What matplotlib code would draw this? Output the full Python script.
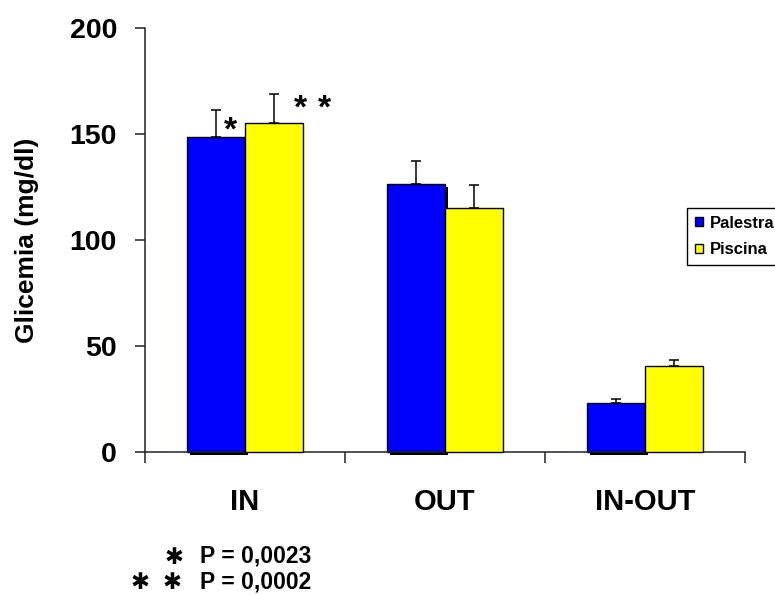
import matplotlib
matplotlib.use("Agg")
import matplotlib.pyplot as plt
import matplotlib.patheffects as pe
from matplotlib.patches import Patch
from matplotlib.font_manager import FontProperties
from matplotlib.textpath import TextPath
import numpy as np

# Data
categories = ["IN", "OUT", "IN-OUT"]
series_names = ["Palestra", "Piscina"]
palestra = [148.5, 126.5, 23.0]
palestra_err = [13.0, 11.0, 2.0]
piscina = [155.0, 115.0, 40.5]
piscina_err = [14.0, 11.0, 3.0]
y_ticks = [0, 50, 100, 150, 200]
footnotes = ["P = 0,0023", "P = 0,0002"]

W, H, DPI = 775, 595, 100
FONT = "Liberation Sans"
BLUE, YELLOW = "#0000ff", "#ffff00"

plt.rcParams["font.family"] = [FONT, "DejaVu Sans"]
plt.rcParams["font.weight"] = "bold"

fig = plt.figure(figsize=(W / DPI, H / DPI), dpi=DPI)
ax = fig.add_axes([145 / W, 1 - 452 / H, 600 / W, 424 / H])

x = np.arange(len(categories))
bw = 0.29

blue = ax.bar(x - bw / 2, palestra, bw, color=BLUE, edgecolor="black",
              linewidth=1.0, clip_on=False, zorder=2)
for b in blue:
    b.set_path_effects([pe.SimplePatchShadow(offset=(2.5, -2.5), shadow_rgbFace="black", alpha=1.0),
                        pe.Normal()])
yellow = ax.bar(x + bw / 2, piscina, bw, color=YELLOW, edgecolor="black",
                linewidth=1.0, clip_on=False, zorder=3)

ax.errorbar(x - bw / 2, palestra, yerr=[np.zeros(len(x)), palestra_err], fmt="none",
            ecolor="black", elinewidth=1.1, capsize=3.6, capthick=1.1, zorder=1)
ax.errorbar(x + bw / 2, piscina, yerr=[np.zeros(len(x)), piscina_err], fmt="none",
            ecolor="black", elinewidth=1.1, capsize=3.6, capthick=1.1, zorder=1)

ax.set_xlim(-0.5, len(categories) - 0.5)
ax.set_ylim(0, 200)

for side in ("top", "right"):
    ax.spines[side].set_visible(False)
for side in ("left", "bottom"):
    ax.spines[side].set_linewidth(1.1)
    ax.spines[side].set_color("#222222")

ax.set_yticks(y_ticks)
ax.set_yticklabels([str(v) for v in y_ticks], fontsize=20.5, fontweight="bold")
ax.tick_params(axis="y", direction="out", length=7.2, width=1.1, pad=13, color="#222222")

# group boundaries carry the tick marks, category names sit between them
ax.set_xticks(np.arange(len(categories) + 1) - 0.5)
ax.set_xticklabels([])
ax.tick_params(axis="x", which="major", direction="out", length=8, width=1.1, color="#222222")
ax.set_xticks(x, minor=True)
ax.set_xticklabels(categories, minor=True, fontsize=21, fontweight="bold")
ax.tick_params(axis="x", which="minor", length=0, pad=26)

fig.text(27.5 / W, 1 - 240 / H, "Glicemia (mg/dl)", rotation=90, ha="center", va="center",
         fontsize=19, fontweight="bold")

handles = [Patch(facecolor=BLUE, edgecolor="black", linewidth=1.0),
           Patch(facecolor=YELLOW, edgecolor="black", linewidth=1.0)]
leg = fig.legend(handles=handles, labels=series_names, loc="upper left",
                 bbox_to_anchor=(687 / W, 1 - 208 / H), bbox_transform=fig.transFigure,
                 prop=FontProperties(family=FONT, weight="bold", size=12),
                 fancybox=False, framealpha=1, edgecolor="black",
                 handlelength=0.5, handleheight=0.5, handletextpad=0.45,
                 borderpad=0.45, labelspacing=0.7, borderaxespad=0)
leg.get_frame().set_linewidth(1.0)


def star(xc, yc, width_px, glyph="*", family=FONT):
    """Draw an asterisk whose ink is centred at (xc, yc) pixels from the top-left."""
    ref = TextPath((0, 0), glyph, prop=FontProperties(family=family, weight="bold", size=100)).get_extents()
    size = width_px / (ref.width / 100 * DPI / 72)
    fp = FontProperties(family=family, weight="bold", size=size)
    ext = TextPath((0, 0), glyph, prop=fp).get_extents()
    k = DPI / 72
    x0 = xc - (ext.x0 + ext.x1) / 2 * k
    y0 = yc + (ext.y0 + ext.y1) / 2 * k
    t = fig.text(x0 / W, 1 - y0 / H, glyph, fontproperties=fp, ha="left", va="baseline")
    # keep the whole text box inside the figure
    fig.canvas.draw()
    bottom = t.get_window_extent().y0
    if bottom < 1:
        t.set_y(1 - (y0 - (1 - bottom)) / H)
    return t


# significance marks over the IN group
star(230.5, 123, 13)
star(300.5, 101, 13)
star(324.5, 101, 13)

# footnote
star(173.5, 556, 16, "\u2731", "DejaVu Sans")
star(140, 584, 16, "\u2731", "DejaVu Sans")
star(171.5, 584, 16, "\u2731", "DejaVu Sans")
fig.text(200 / W, 1 - 562 / H, footnotes[0], fontsize=16.5, fontweight="bold", ha="left", va="baseline")
fig.text(200 / W, 1 - 589 / H, footnotes[1], fontsize=16.5, fontweight="bold", ha="left", va="baseline")

fig.savefig("out.png", dpi=DPI)
